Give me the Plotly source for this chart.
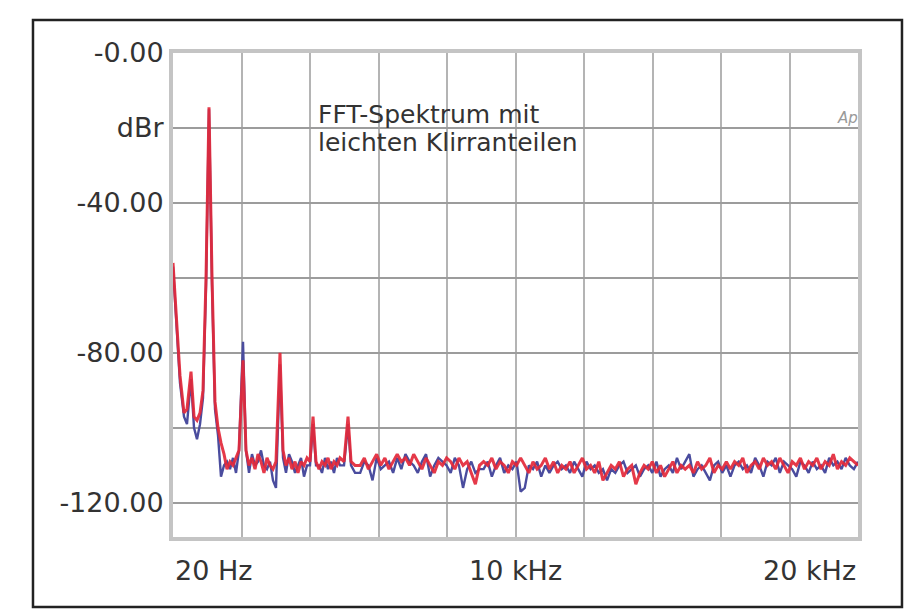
import plotly.graph_objects as go

# Frequency bins (Hz)
freq = [
    20, 108, 224, 341, 428, 545, 633, 720, 808, 895,
    983, 1070, 1158, 1245, 1333, 1420, 1508, 1595, 1683, 1770,
    1858, 1945, 2062, 2149, 2237, 2324, 2412, 2499, 2587, 2674,
    2762, 2849, 2937, 3024, 3141, 3229, 3316, 3404, 3491, 3579,
    3666, 3754, 3841, 3929, 4016, 4104, 4191, 4279, 4366, 4454,
    4541, 4629, 4716, 4804, 4891, 5008, 5125, 5213, 5330,
    5480, 5600, 5720, 5840, 5960, 6080, 6200, 6320, 6440, 6560,
    6680, 6800, 6920, 7040, 7160, 7280, 7400, 7520, 7640, 7760,
    7880, 8000, 8120, 8240, 8360, 8480, 8600, 8720, 8840, 8960,
    9080, 9200, 9320, 9440, 9560, 9680, 9800, 9920, 10040, 10160,
    10280, 10400, 10520, 10640, 10760, 10880, 11000, 11120, 11240, 11360,
    11480, 11600, 11720, 11840, 11960, 12080, 12200, 12320, 12440, 12560,
    12680, 12800, 12920, 13040, 13160, 13280, 13400, 13520, 13640, 13760,
    13880, 14000, 14120, 14240, 14360, 14480, 14600, 14720, 14840, 14960,
    15080, 15200, 15320, 15440, 15560, 15680, 15800, 15920, 16040, 16160,
    16280, 16400, 16520, 16640, 16760, 16880, 17000, 17120, 17240, 17360,
    17480, 17600, 17720, 17840, 17960, 18080, 18200, 18320, 18440, 18560,
    18680, 18800, 18920, 19040, 19160, 19280, 19400, 19520, 19640, 19760,
    19880, 20000,
]

# Channel levels (dBr)
red_db = [
    -56, -70, -86, -96, -95, -85, -97, -98, -96, -90,
    -60, -14.5, -60, -93, -100, -104, -107, -111, -109, -110,
    -108, -106, -82, -106, -110, -108, -111, -107, -109, -112,
    -108, -110, -111, -109, -80, -106, -110, -108, -111, -109,
    -112, -109, -110, -108, -109, -97, -109, -111, -109, -110,
    -108, -111, -109, -110, -108, -109, -97, -109, -110,
    -110, -108, -111, -109, -107, -110, -108, -111, -109, -107,
    -109, -108, -110, -107, -109, -111, -108, -110, -112, -109,
    -110, -108, -109, -111, -108, -110, -109, -112, -115, -110,
    -109, -110, -108, -111, -109, -110, -112, -109, -110, -108,
    -110, -112, -109, -111, -110, -108, -111, -109, -112, -110,
    -111, -109, -112, -110, -108, -111, -110, -112, -109, -114,
    -112, -110, -111, -109, -113, -111, -110, -115, -112, -110,
    -111, -109, -112, -110, -113, -111, -109, -112, -110, -111,
    -110, -112, -109, -111, -110, -108, -112, -110, -111, -109,
    -111, -109, -110, -108, -112, -110, -109, -111, -108, -110,
    -109, -111, -108, -110, -112, -109, -110, -108, -111, -109,
    -110, -108, -111, -109, -110, -107, -111, -109, -110, -108,
    -109, -110,
]

blue_db = [
    -57, -72, -88, -97, -99, -87, -100, -103, -99, -92,
    -62, -15, -62, -95, -102, -113, -110, -109, -111, -108,
    -112, -106, -77, -106, -112, -107, -110, -109, -106, -110,
    -111, -109, -114, -116, -83, -108, -112, -107, -109, -112,
    -110, -108, -113, -110, -110, -99, -110, -110, -112, -108,
    -111, -109, -112, -108, -110, -110, -99, -110, -112,
    -112, -109, -110, -114, -108, -111, -110, -109, -112, -108,
    -111, -107, -109, -110, -112, -109, -107, -113, -110, -108,
    -109, -110, -112, -108, -110, -116, -111, -109, -112, -111,
    -111, -109, -113, -110, -108, -112, -110, -111, -109, -117,
    -116, -110, -111, -109, -113, -110, -112, -110, -109, -111,
    -110, -112, -109, -111, -113, -109, -111, -110, -112, -111,
    -114, -111, -112, -110, -109, -112, -111, -110, -113, -111,
    -110, -112, -109, -113, -111, -110, -112, -108, -111, -109,
    -107, -113, -111, -110, -112, -114, -110, -109, -112, -110,
    -113, -110, -109, -111, -110, -112, -108, -110, -113, -109,
    -110, -108, -112, -109, -110, -111, -113, -109, -110, -112,
    -109, -111, -110, -112, -108, -110, -109, -111, -108, -110,
    -111, -109,
]

y_tickvals = [0, -20, -40, -60, -80, -100, -120]
y_ticktext = ["-0.00", "dBr", "-40.00", "", "-80.00", "", "-120.00"]

x_labels = ["20 Hz", "10 kHz", "20 kHz"]
x_label_pos = [20, 10000, 20000]
x_label_anchor = ["left", "center", "right"]

note_lines = ["FFT-Spektrum mit", "leichten Klirranteilen"]
note_line_y = [-16.4, -23.9]

FONT = "DejaVu Sans"

fig = go.Figure()
fig.add_trace(go.Scatter(x=freq, y=blue_db, mode="lines",
                         line=dict(color="#4a4c9e", width=2.4),
                         showlegend=False, hoverinfo="skip"))
fig.add_trace(go.Scatter(x=freq, y=red_db, mode="lines",
                         line=dict(color="#e3293a", width=3),
                         opacity=0.92, showlegend=False, hoverinfo="skip"))

annotations = []
for lab, pos, anc in zip(x_labels, x_label_pos, x_label_anchor):
    annotations.append(dict(x=pos, xref="x", y=0, yref="paper",
                            text=lab, showarrow=False, xanchor=anc,
                            yanchor="middle", yshift=-33,
                            font=dict(family=FONT, size=27, color="#333333")))
for txt, yy in zip(note_lines, note_line_y):
    annotations.append(dict(x=4191, xref="x", y=yy, yref="y", text=txt,
                            showarrow=False, xanchor="left", yanchor="middle",
                            align="left",
                            font=dict(family=FONT, size=25, color="#333333")))
annotations.append(dict(x=0.985, xref="paper", y=0.865, yref="paper",
                        text="<i>Ap</i>", showarrow=False, xanchor="center",
                        yanchor="middle",
                        font=dict(family=FONT, size=15, color="#9a9a9a")))

fig.update_layout(
    width=911, height=601,
    margin=dict(l=165, r=61, t=45, b=72),
    paper_bgcolor="white", plot_bgcolor="white",
    annotations=annotations,
    shapes=[dict(type="rect", xref="paper", yref="paper",
                 x0=-0.2044, x1=1.0642, y0=-0.1446, y1=1.068,
                 line=dict(color="#222222", width=2.5))],
)
fig.update_xaxes(range=[20, 20000], tick0=20, dtick=1998, showticklabels=False,
                 ticks="", showgrid=True, gridcolor="#b4b4b4", gridwidth=2,
                 zeroline=False, showline=True, linecolor="#c4c4c4",
                 linewidth=4, mirror=True)
fig.update_yaxes(range=[-129.1, 0], tickmode="array", tickvals=y_tickvals,
                 ticktext=y_ticktext, ticks="", showgrid=True,
                 gridcolor="#9c9c9c", gridwidth=2, zeroline=False,
                 showline=True, linecolor="#c4c4c4", linewidth=4, mirror=True,
                 tickfont=dict(family=FONT, size=27, color="#333333"))

fig.write_html("out.html")
